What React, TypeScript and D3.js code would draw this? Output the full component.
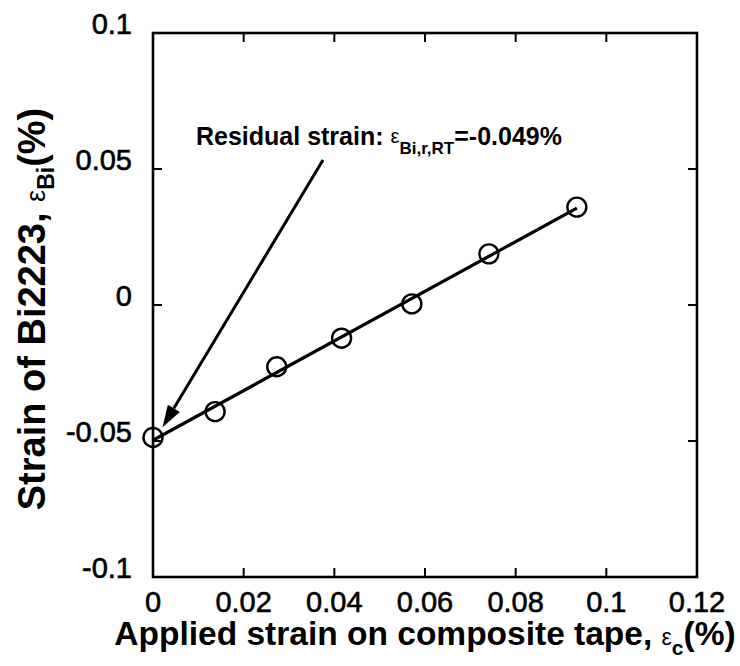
import React from "react";
import * as d3 from "d3";

const appliedStrain = [0, 0.0137, 0.0273, 0.0416, 0.0571, 0.0741, 0.0935];
const biStrain = [-0.0487, -0.0392, -0.0227, -0.0122, 0.0004, 0.0188, 0.036];
const xTickValues = [0, 0.02, 0.04, 0.06, 0.08, 0.1, 0.12];
const xTickLabels = ["0", "0.02", "0.04", "0.06", "0.08", "0.1", "0.12"];
const yTickValues = [-0.1, -0.05, 0, 0.05, 0.1];
const yTickLabels = ["-0.1", "-0.05", "0", "0.05", "0.1"];
const arrowStart = [0.0375, 0.0533];
const arrowEnd = [0.0021, -0.0449];

const W = 740;
const H = 666;
const L = 153, R = 697, T = 33, B = 577;
const FONT = "'Liberation Sans', Arial, Helvetica, sans-serif";

export default function App() {
  const x = d3.scaleLinear().domain([0, 0.12]).range([L, R]);
  const y = d3.scaleLinear().domain([-0.1, 0.1]).range([B, T]);

  // least squares fit
  const n = appliedStrain.length;
  const mx = d3.mean(appliedStrain) as number;
  const my = d3.mean(biStrain) as number;
  let sxy = 0, sxx = 0;
  for (let i = 0; i < n; i++) {
    sxy += (appliedStrain[i] - mx) * (biStrain[i] - my);
    sxx += (appliedStrain[i] - mx) ** 2;
  }
  const slope = sxy / sxx;
  const icpt = my - slope * mx;
  const fitX = [0, appliedStrain[n - 1]];
  const line = d3
    .line<number>()
    .x((d) => x(d))
    .y((d) => y(icpt + slope * d));

  // arrow
  const ax1 = x(arrowStart[0]), ay1 = y(arrowStart[1]);
  const ax2 = x(arrowEnd[0]), ay2 = y(arrowEnd[1]);
  const dx = ax2 - ax1, dy = ay2 - ay1;
  const len = Math.hypot(dx, dy);
  const ux = dx / len, uy = dy / len;
  const hl = 22, hw = 7;
  const bx = ax2 - ux * hl, by = ay2 - uy * hl;
  const head = `${ax2},${ay2} ${bx - uy * hw},${by + ux * hw} ${bx + uy * hw},${by - ux * hw}`;

  const tickLen = 9;

  return (
    <svg
      width={W}
      height={H}
      style={{ position: "absolute", left: 0, top: 0, background: "#fff" }}
      fontFamily={FONT}
    >
      <rect x={0} y={0} width={W} height={H} fill="#fff" />
      {/* frame */}
      <rect x={L} y={T} width={R - L} height={B - T} fill="none" stroke="#000" strokeWidth={2.6} />
      {/* x ticks */}
      {xTickValues.map((v, i) => (
        <g key={"xt" + i}>
          <line x1={x(v)} x2={x(v)} y1={B} y2={B - tickLen} stroke="#000" strokeWidth={2} />
          <line x1={x(v)} x2={x(v)} y1={T} y2={T + tickLen} stroke="#000" strokeWidth={2} />
          <text x={x(v)} y={612} textAnchor="middle" fontSize={29} stroke="#000" strokeWidth={0.6}>
            {xTickLabels[i]}
          </text>
        </g>
      ))}
      {/* y ticks */}
      {yTickValues.map((v, i) => (
        <g key={"yt" + i}>
          <line x1={L} x2={L + tickLen} y1={y(v)} y2={y(v)} stroke="#000" strokeWidth={2} />
          <line x1={R} x2={R - tickLen} y1={y(v)} y2={y(v)} stroke="#000" strokeWidth={2} />
          <text x={132} y={y(v) + 1} textAnchor="end" fontSize={29} stroke="#000" strokeWidth={0.6}>
            {yTickLabels[i]}
          </text>
        </g>
      ))}
      {/* fit line */}
      <path d={line(fitX) as string} fill="none" stroke="#000" strokeWidth={3.2} />
      {/* points */}
      {appliedStrain.map((v, i) => (
        <circle key={"p" + i} cx={x(v)} cy={y(biStrain[i])} r={9.5} fill="none" stroke="#000" strokeWidth={2.4} />
      ))}
      {/* arrow */}
      <line x1={ax1} y1={ay1} x2={bx} y2={by} stroke="#000" strokeWidth={3} />
      <polygon points={head} fill="#000" />
      {/* annotation */}
      <text x={196} y={145} fontSize={25} fontWeight="bold">
        Residual strain:{" "}
        <tspan fontSize={20} fontWeight="normal" dy={-2}>ε</tspan>
        <tspan fontSize={17} dy={11}>Bi,r,RT</tspan>
        <tspan dy={-9}>=-0.049%</tspan>
      </text>
      {/* x title */}
      <text x={425} y={645} textAnchor="middle" fontSize={33.5} fontWeight="bold">
        Applied strain on composite tape,{" "}
        <tspan fontSize={23} fontWeight="normal">ε</tspan>
        <tspan fontSize={21} dy={10}>c</tspan>
        <tspan dy={-10}>(%)</tspan>
      </text>
      {/* y title */}
      <text
        transform="rotate(-90)"
        x={-309}
        y={45}
        textAnchor="middle"
        fontSize={38}
        fontWeight="bold"
      >
        Strain of Bi2223,{" "}
        <tspan fontSize={27} fontWeight="normal">ε</tspan>
        <tspan fontSize={23} dy={9}>Bi</tspan>
        <tspan dy={-9}>(%)</tspan>
      </text>
    </svg>
  );
}
